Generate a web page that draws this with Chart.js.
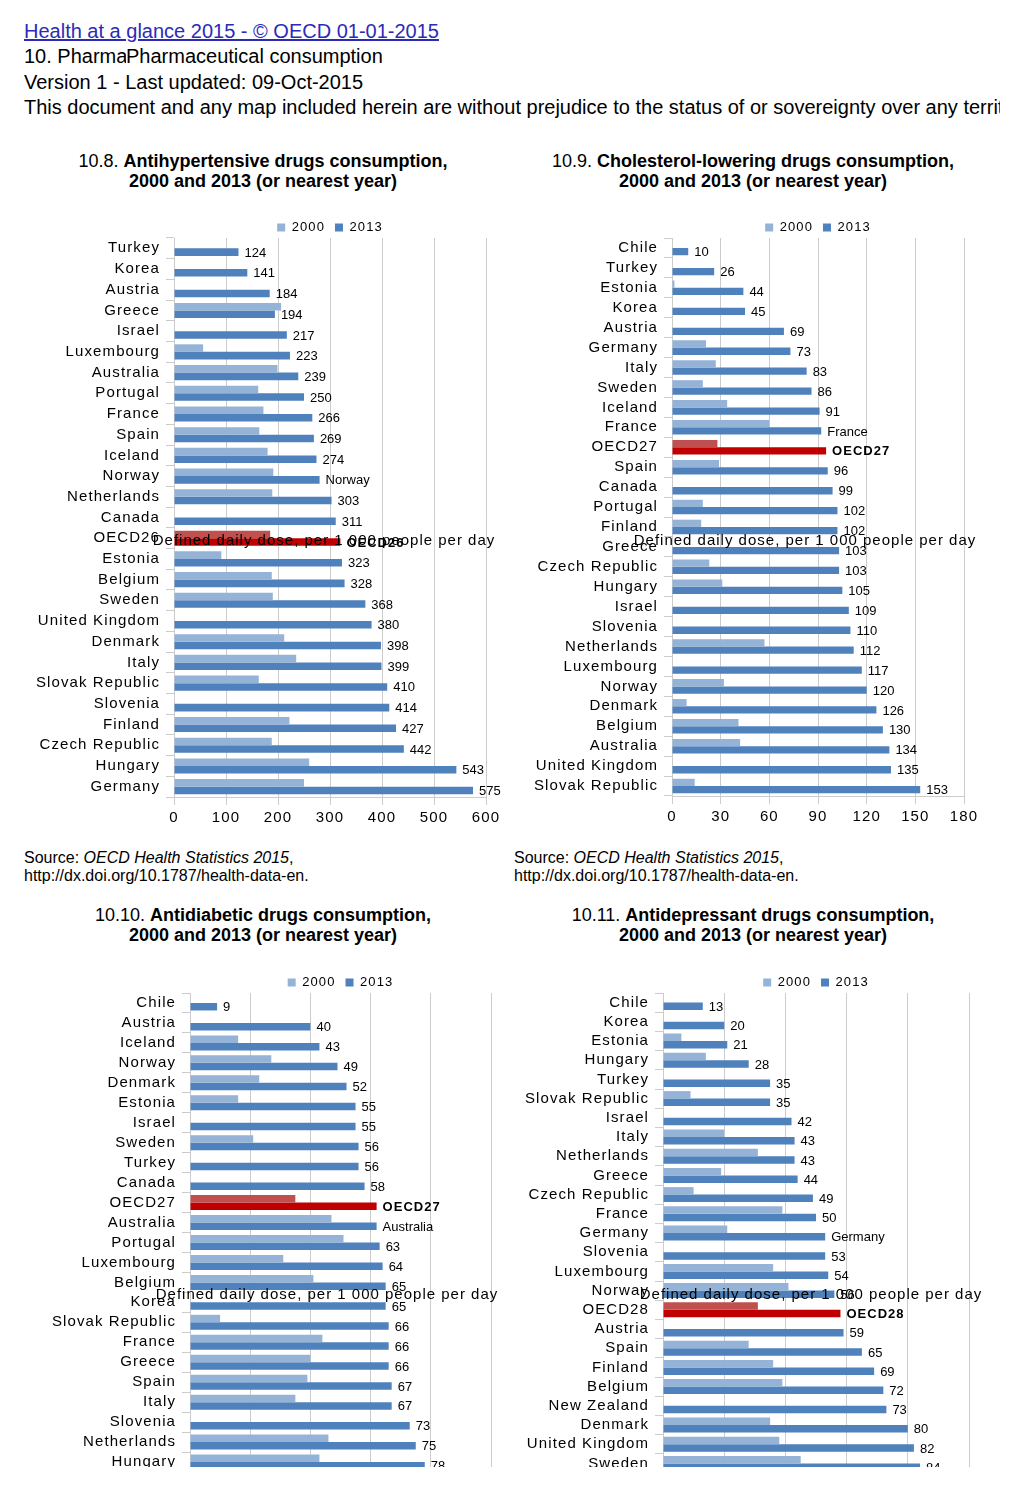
<!DOCTYPE html>
<html>
<head>
<meta charset="utf-8">
<style>
  body { margin: 0; background: #fff; font-family: "Liberation Sans", Arial, sans-serif; color: #000; }
  #page { position: relative; width: 1024px; height: 1467px; overflow: hidden; }
  .hdr { position: absolute; left: 24px; font-size: 20px; line-height: 22px; white-space: nowrap; }
  .title { position: absolute; width: 500px; text-align: center; font-size: 18px; line-height: 20px; white-space: nowrap; }
  .src { position: absolute; font-size: 16px; line-height: 18px; white-space: nowrap; }
  .axt { position: absolute; width: 420px; text-align: center; font-size: 15px; line-height: 18px; letter-spacing: 1px; white-space: nowrap; z-index: 5; }
  canvas { position: absolute; }
</style>
</head>
<body>
<div id="page">
  <div class="hdr" style="top:20px;color:#2b2bb8;text-decoration:underline">Health at a glance 2015 - © OECD 01-01-2015</div>
  <div class="hdr" style="top:45px;width:102px;overflow:hidden">10. Pharmaceutical consumption</div>
  <div class="hdr" style="top:45px;left:126px;background:#fff">Pharmaceutical consumption</div>
  <div class="hdr" style="top:71px">Version 1 - Last updated: 09-Oct-2015</div>
  <div class="hdr" style="top:96px;width:976px;overflow:hidden">This document and any map included herein are without prejudice to the status of or sovereignty over any territory, to the delimitation of international frontiers and boundaries and to the name of any territory, city or area.</div>

  <div class="title" style="left:13px;top:151px">10.8. <b>Antihypertensive drugs consumption,</b><br><b>2000 and 2013 (or nearest year)</b></div>
  <div class="title" style="left:503px;top:151px">10.9. <b>Cholesterol-lowering drugs consumption,</b><br><b>2000 and 2013 (or nearest year)</b></div>
  <div class="title" style="left:13px;top:905px">10.10. <b>Antidiabetic drugs consumption,</b><br><b>2000 and 2013 (or nearest year)</b></div>
  <div class="title" style="left:503px;top:905px">10.11. <b>Antidepressant drugs consumption,</b><br><b>2000 and 2013 (or nearest year)</b></div>

  <canvas id="c1" width="510" height="637" style="left:0;top:200px"></canvas>
  <canvas id="c2" width="500" height="636" style="left:510px;top:200px"></canvas>
  <canvas id="c3" width="510" height="557" style="left:0;top:955px"></canvas>
  <canvas id="c4" width="500" height="558" style="left:510px;top:955px"></canvas>

  <div class="axt" style="left:114px;top:531px">Defined daily dose, per 1 000 people per day</div>
  <div class="axt" style="left:595px;top:531px">Defined daily dose, per 1 000 people per day</div>
  <div class="axt" style="left:117px;top:1285px">Defined daily dose, per 1 000 people per day</div>
  <div class="axt" style="left:601px;top:1285px">Defined daily dose, per 1 000 people per day</div>

  <div class="src" style="left:24px;top:849px">Source: <i>OECD Health Statistics 2015</i>,<br>http://dx.doi.org/10.1787/health-data-en.</div>
  <div class="src" style="left:514px;top:849px">Source: <i>OECD Health Statistics 2015</i>,<br>http://dx.doi.org/10.1787/health-data-en.</div>
</div>

<script src="https://cdn.jsdelivr.net/npm/chart.js"></script>
<script>
  // 10.8 antihypertensive
  const cats1 = ['Turkey', 'Korea', 'Austria', 'Greece', 'Israel', 'Luxembourg', 'Australia', 'Portugal', 'France', 'Spain', 'Iceland', 'Norway', 'Netherlands', 'Canada', 'OECD26', 'Estonia', 'Belgium', 'Sweden', 'United Kingdom', 'Denmark', 'Italy', 'Slovak Republic', 'Slovenia', 'Finland', 'Czech Republic', 'Hungary', 'Germany'];
  const y2000_1 = [null, null, null, 206, null, 56, 199, 162, 172, 164, 180, 191, 189, null, 185, 91, 188, 190, null, 212, 235, 163, null, 222, 188, 260, 250];
  const y2013_1 = [124, 141, 184, 194, 217, 223, 239, 250, 266, 269, 274, 280, 303, 311, 320, 323, 328, 368, 380, 398, 399, 410, 414, 427, 442, 543, 575];

  // 10.9 cholesterol-lowering
  const cats2 = ['Chile', 'Turkey', 'Estonia', 'Korea', 'Austria', 'Germany', 'Italy', 'Sweden', 'Iceland', 'France', 'OECD27', 'Spain', 'Canada', 'Portugal', 'Finland', 'Greece', 'Czech Republic', 'Hungary', 'Israel', 'Slovenia', 'Netherlands', 'Luxembourg', 'Norway', 'Denmark', 'Belgium', 'Australia', 'United Kingdom', 'Slovak Republic'];
  const y2000_2 = [null, null, 1.5, null, null, 21, 27, 19, 34, 60, 28, 29, null, 19, 18, null, 23, 31, null, null, 57, null, 32, 9, 41, 42, null, 14];
  const y2013_2 = [10, 26, 44, 45, 69, 73, 83, 86, 91, 92, 95, 96, 99, 102, 102, 103, 103, 105, 109, 110, 112, 117, 120, 126, 130, 134, 135, 153];

  // 10.10 antidiabetic
  const cats3 = ['Chile', 'Austria', 'Iceland', 'Norway', 'Denmark', 'Estonia', 'Israel', 'Sweden', 'Turkey', 'Canada', 'OECD27', 'Australia', 'Portugal', 'Luxembourg', 'Belgium', 'Korea', 'Slovak Republic', 'France', 'Greece', 'Spain', 'Italy', 'Slovenia', 'Netherlands', 'Hungary'];
  const y2000_3 = [null, null, 16, 27, 23, 16, null, 21, null, null, 35, 47, 51, 31, 41, null, 10, 44, 40, 39, 35, null, 46, 43];
  const y2013_3 = [9, 40, 43, 49, 52, 55, 55, 56, 56, 58, 62, 62, 63, 64, 65, 65, 66, 66, 66, 67, 67, 73, 75, 78];

  // 10.11 antidepressant
  const cats4 = ['Chile', 'Korea', 'Estonia', 'Hungary', 'Turkey', 'Slovak Republic', 'Israel', 'Italy', 'Netherlands', 'Greece', 'Czech Republic', 'France', 'Germany', 'Slovenia', 'Luxembourg', 'Norway', 'OECD28', 'Austria', 'Spain', 'Finland', 'Belgium', 'New Zealand', 'Denmark', 'United Kingdom', 'Sweden'];
  const y2000_4 = [null, null, 6, 14, null, 9, null, 20, 31, 19, 10, 39, 21, null, 36, 41, 31, null, 28, 36, 39, null, 35, 38, 45];
  const y2013_4 = [13, 20, 21, 28, 35, 35, 42, 43, 43, 44, 49, 50, 53, 53, 54, 56, 58, 59, 65, 69, 72, 73, 80, 82, 84];

  const BLUE = '#4f81bd', LIGHT = '#95b3d7', RED = '#c00000', LIGHT_RED = '#c0504d', GRID = '#cccccc';
  const FONT = '"Liberation Sans", Arial, sans-serif';

  // wide letter spacing like the original export
  const spacing = {
    id: 'spacing',
    beforeUpdate(chart) { chart.ctx.letterSpacing = '1.1px'; },
    beforeDraw(chart) { chart.ctx.letterSpacing = '1.1px'; }
  };

  // value labels after the 2013 bars
  const valueLabels = {
    id: 'valueLabels',
    afterDatasetsDraw(chart, args, opts) {
      const ctx = chart.ctx;
      const cats = chart.data.labels;
      const vals = chart.data.datasets[1].data;
      ctx.save();
      ctx.textBaseline = 'middle';
      ctx.textAlign = 'left';
      ctx.fillStyle = '#000';
      chart.getDatasetMeta(1).data.forEach((bar, i) => {
        const avg = cats[i].startsWith('OECD');
        let txt = String(vals[i]);
        if (avg || opts.names.includes(cats[i])) txt = cats[i];
        ctx.letterSpacing = avg ? '1px' : '0px';
        ctx.font = (avg ? 'bold ' : '') + '13px ' + FONT;
        ctx.fillText(txt, bar.x + 6, bar.y + 1);
      });
      ctx.restore();
    }
  };

  function drawChart(id, cats, old, now, names, cfg) {
    const isAvg = c => c.type === 'data' && cats[c.dataIndex].startsWith('OECD');
    return new Chart(document.getElementById(id), {
      type: 'bar',
      data: {
        labels: cats,
        datasets: [
          { label: '2000', data: old, backgroundColor: c => isAvg(c) ? LIGHT_RED : LIGHT },
          { label: '2013', data: now, backgroundColor: c => isAvg(c) ? RED : BLUE }
        ]
      },
      options: {
        indexAxis: 'y',
        responsive: false,
        animation: false,
        events: [],
        datasets: { bar: { categoryPercentage: cfg.pct, barPercentage: 1 } },
        layout: { padding: { top: 11, right: cfg.right, left: 0, bottom: 0 } },
        scales: {
          x: {
            min: 0, max: cfg.max,
            ticks: { stepSize: cfg.step, color: '#000', font: { family: FONT, size: 15 }, padding: 4 },
            grid: { color: GRID, tickLength: 8 },
            border: { color: GRID },
            afterFit: s => { s.height = 40; }
          },
          y: {
            ticks: { color: '#000', font: { family: FONT, size: 15 }, padding: 6, autoSkip: false },
            grid: { drawOnChartArea: false, color: GRID, tickLength: 8 },
            border: { color: GRID },
            afterFit: s => { s.width = cfg.left; }
          }
        },
        plugins: {
          legend: {
            fullSize: false,
            maxHeight: 27,
            labels: { boxWidth: 8, boxHeight: 8, padding: 10, color: '#000', font: { family: FONT, size: 13 } }
          },
          tooltip: { enabled: false },
          valueLabels: { names: names }
        }
      },
      plugins: [spacing, valueLabels]
    });
  }

  drawChart('c1', cats1, y2000_1, y2013_1, ['Norway'], { max: 600, step: 100, left: 174, right: 24, pct: 0.73 });
  drawChart('c2', cats2, y2000_2, y2013_2, ['France'], { max: 180, step: 30, left: 162, right: 46, pct: 0.73 });
  drawChart('c3', cats3, y2000_3, y2013_3, ['Australia'], { max: 100, step: 20, left: 190, right: 19, pct: 0.75 });
  drawChart('c4', cats4, y2000_4, y2013_4, ['Germany'], { max: 100, step: 20, left: 153, right: 41, pct: 0.78 });
</script>
</body>
</html>
